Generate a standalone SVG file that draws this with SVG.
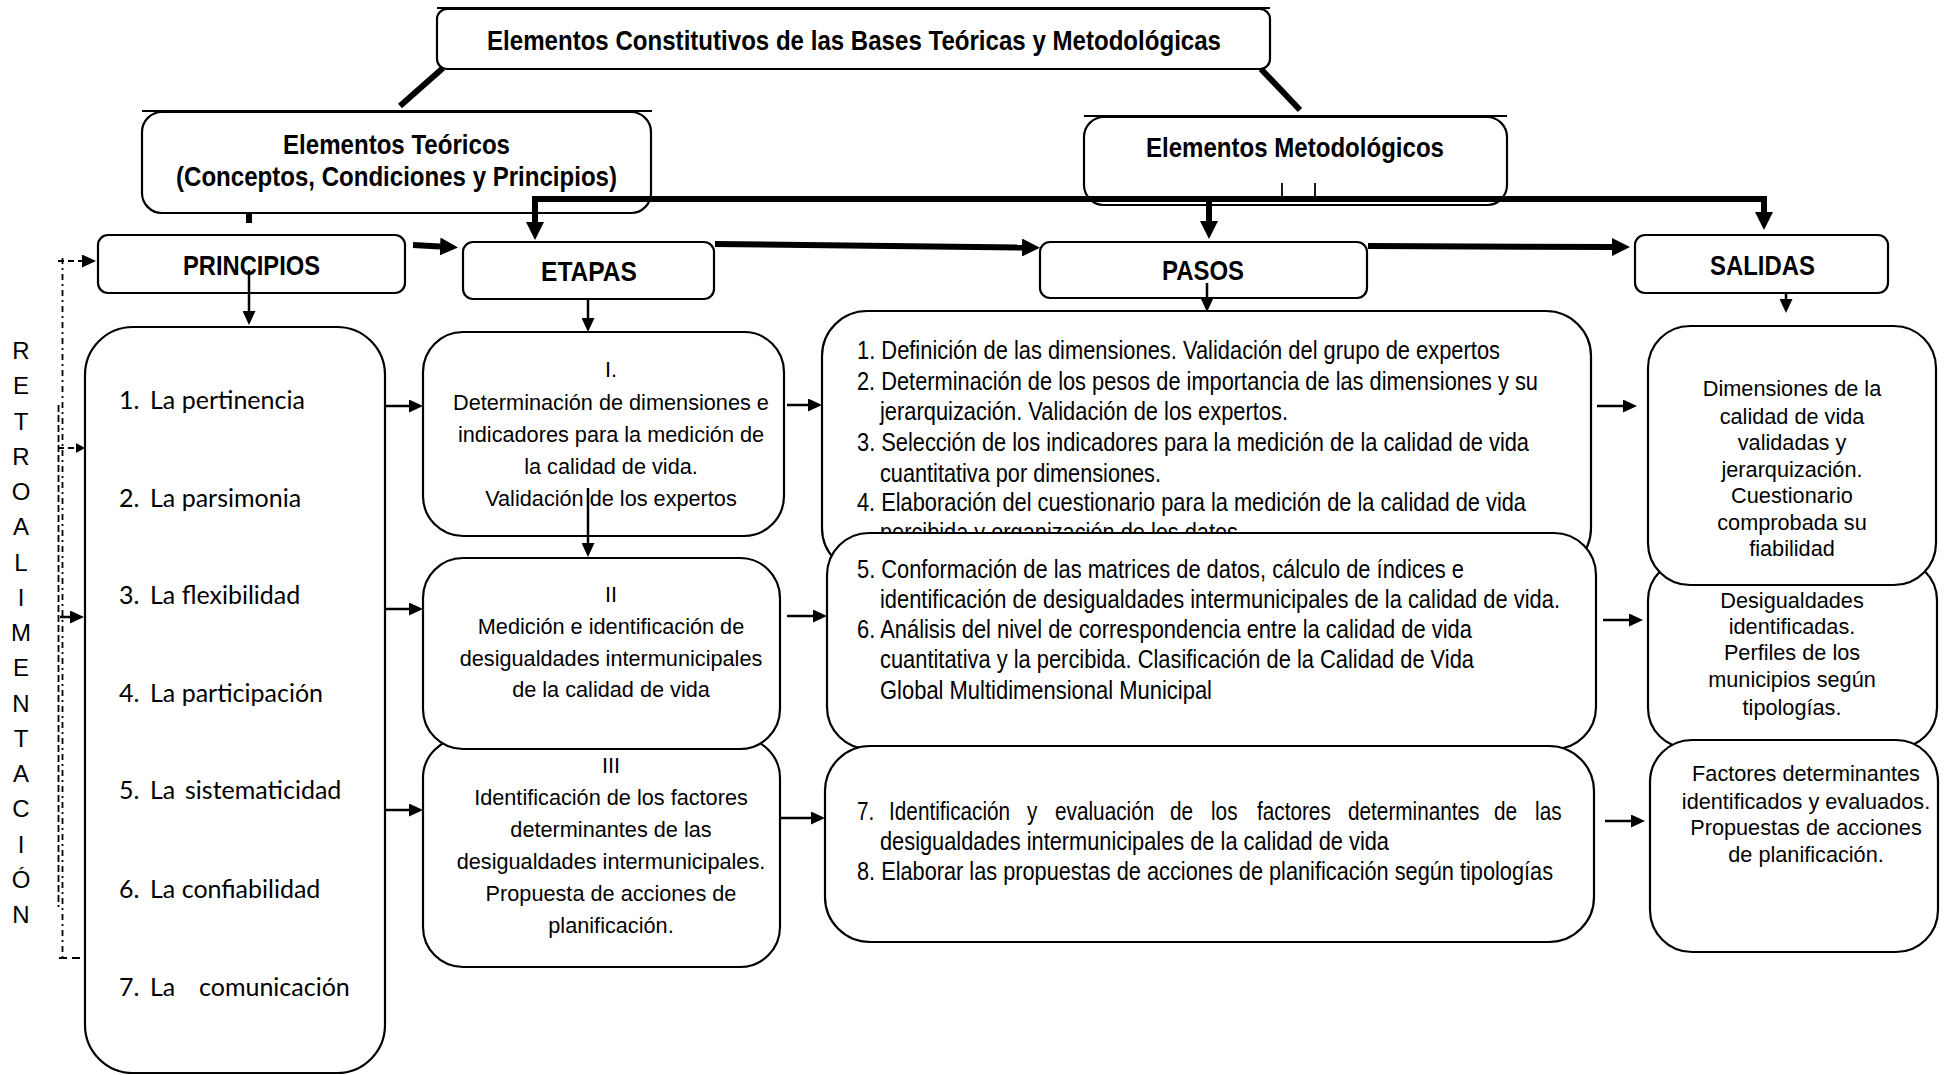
<svg xmlns="http://www.w3.org/2000/svg" width="1944" height="1075" viewBox="0 0 1944 1075">
<style>
.box{fill:#fff;stroke:#000;stroke-width:2.2}
.hd{font-family:"Liberation Sans",Arial,sans-serif;font-weight:bold;font-size:28px;fill:#000}
.tx{font-family:"Liberation Sans",Arial,sans-serif;font-size:21.7px;text-anchor:middle;fill:#000}
.ps{font-family:"Liberation Sans",Arial,sans-serif;font-size:25px;fill:#000}
.li{font-family:Lato,"Liberation Sans",sans-serif;font-size:25px;fill:#000}
.rt{font-family:"Liberation Sans",Arial,sans-serif;font-size:24px;text-anchor:middle;fill:#000}
.thick{stroke:#000;stroke-width:6;fill:none}
.thin{stroke:#000;stroke-width:2.5;fill:none}
.cap{stroke:#000;stroke-width:2;fill:none}
.dd{stroke:#000;stroke-width:1.8;fill:none}
</style>
<defs>
<marker id="hb" markerUnits="userSpaceOnUse" markerWidth="18" markerHeight="18" refX="0" refY="9" orient="auto-start-reverse" viewBox="0 0 18 18"><path d="M0,0 L18,9 L0,18 z" fill="#000"/></marker>
<marker id="ht" markerUnits="userSpaceOnUse" markerWidth="14" markerHeight="13" refX="0" refY="6.5" orient="auto" viewBox="0 0 14 13"><path d="M0,0 L14,6.5 L0,13 z" fill="#000"/></marker>
<marker id="hs" markerUnits="userSpaceOnUse" markerWidth="9" markerHeight="10" refX="0" refY="5" orient="auto" viewBox="0 0 9 10"><path d="M0,0 L9,5 L0,10 z" fill="#000"/></marker>
</defs>
<rect width="1944" height="1075" fill="#fff"/>

<g id="title">
<rect class="box" x="437" y="9" width="833" height="60" rx="10"/>
<line class="cap" x1="437" y1="8" x2="1270" y2="8"/>
<text class="hd" x="487" y="50" textLength="734" lengthAdjust="spacingAndGlyphs">Elementos Constitutivos de las Bases Teóricas y Metodológicas</text>
</g>

<g id="teoricos">
<rect class="box" x="142" y="112" width="509" height="101" rx="20"/>
<line class="cap" x1="142" y1="111" x2="652" y2="111"/>
<text class="hd" x="283" y="154" textLength="227" lengthAdjust="spacingAndGlyphs">Elementos Teóricos</text>
<text class="hd" x="176" y="186" textLength="441" lengthAdjust="spacingAndGlyphs">(Conceptos, Condiciones y Principios)</text>
</g>

<g id="metodologicos">
<rect class="box" x="1084" y="117" width="423" height="88" rx="20"/>
<line class="cap" x1="1084" y1="116" x2="1507" y2="116"/>
<text class="hd" x="1146" y="157" textLength="298" lengthAdjust="spacingAndGlyphs">Elementos Metodológicos</text>
</g>

<g id="principios">
<rect class="box" x="98" y="235" width="307" height="58" rx="10"/>
<text class="hd" x="183" y="275" textLength="137" lengthAdjust="spacingAndGlyphs">PRINCIPIOS</text>
</g>
<g id="etapas">
<rect class="box" x="463" y="242" width="251" height="57" rx="10"/>
<text class="hd" x="541" y="281" textLength="96" lengthAdjust="spacingAndGlyphs">ETAPAS</text>
</g>
<g id="pasos">
<rect class="box" x="1040" y="242" width="327" height="56" rx="10"/>
<text class="hd" x="1162" y="280" textLength="82" lengthAdjust="spacingAndGlyphs">PASOS</text>
</g>
<g id="salidas">
<rect class="box" x="1635" y="235" width="253" height="58" rx="10"/>
<text class="hd" x="1710" y="275" textLength="105" lengthAdjust="spacingAndGlyphs">SALIDAS</text>
</g>

<g id="retroalimentacion">
<text class="rt" x="21" y="359">R</text>
<text class="rt" x="21" y="394">E</text>
<text class="rt" x="21" y="430">T</text>
<text class="rt" x="21" y="465">R</text>
<text class="rt" x="21" y="500">O</text>
<text class="rt" x="21" y="535">A</text>
<text class="rt" x="21" y="571">L</text>
<text class="rt" x="21" y="606">I</text>
<text class="rt" x="21" y="641">M</text>
<text class="rt" x="21" y="676">E</text>
<text class="rt" x="21" y="712">N</text>
<text class="rt" x="21" y="747">T</text>
<text class="rt" x="21" y="782">A</text>
<text class="rt" x="21" y="817">C</text>
<text class="rt" x="21" y="853">I</text>
<text class="rt" x="21" y="888">Ó</text>
<text class="rt" x="21" y="923">N</text>
</g>

<g id="lista-principios">
<rect class="box" x="85" y="327" width="300" height="746" rx="48"/>
<text class="li" y="409"><tspan x="119">1.</tspan><tspan x="150">La pertinencia</tspan></text>
<text class="li" y="507"><tspan x="119">2.</tspan><tspan x="150">La parsimonia</tspan></text>
<text class="li" y="604"><tspan x="119">3.</tspan><tspan x="150">La flexibilidad</tspan></text>
<text class="li" y="702"><tspan x="119">4.</tspan><tspan x="150">La participación</tspan></text>
<text class="li" y="799"><tspan x="119">5.</tspan><tspan x="150">La</tspan><tspan x="185">sistematicidad</tspan></text>
<text class="li" y="898"><tspan x="119">6.</tspan><tspan x="150">La confiabilidad</tspan></text>
<text class="li" y="996"><tspan x="119">7.</tspan><tspan x="150">La</tspan><tspan x="199">comunicación</tspan></text>
</g>

<g id="etapa-3">
<rect class="box" x="423" y="738" width="357" height="229" rx="40"/>
<text class="tx" x="611" y="773">III</text>
<text class="tx" x="611" y="805">Identificación de los factores</text>
<text class="tx" x="611" y="837">determinantes de las</text>
<text class="tx" x="611" y="869">desigualdades intermunicipales.</text>
<text class="tx" x="611" y="901">Propuesta de acciones de</text>
<text class="tx" x="611" y="933">planificación.</text>
</g>
<g id="etapa-2">
<rect class="box" x="423" y="558" width="357" height="191" rx="40"/>
<text class="tx" x="611" y="602">II</text>
<text class="tx" x="611" y="634">Medición e identificación de</text>
<text class="tx" x="611" y="666">desigualdades intermunicipales</text>
<text class="tx" x="611" y="697">de la calidad de vida</text>
</g>
<g id="etapa-1">
<rect class="box" x="423" y="332" width="361" height="204" rx="40"/>
<text class="tx" x="611" y="377">I.</text>
<text class="tx" x="611" y="410">Determinación de dimensiones e</text>
<text class="tx" x="611" y="442">indicadores para la medición de</text>
<text class="tx" x="611" y="474">la calidad de vida.</text>
<text class="tx" x="611" y="506">Validación de los expertos</text>
</g>

<g id="pasos-1-4">
<rect class="box" x="822" y="311" width="769" height="262" rx="45"/>
<text class="ps" x="857" y="359" textLength="643" lengthAdjust="spacingAndGlyphs">1. Definición de las dimensiones. Validación del grupo de expertos</text>
<text class="ps" x="857" y="390" textLength="681" lengthAdjust="spacingAndGlyphs">2. Determinación de los pesos de importancia de las dimensiones y su</text>
<text class="ps" x="880" y="420" textLength="408" lengthAdjust="spacingAndGlyphs">jerarquización. Validación de los expertos.</text>
<text class="ps" x="857" y="451" textLength="672" lengthAdjust="spacingAndGlyphs">3. Selección de los indicadores para la medición de la calidad de vida</text>
<text class="ps" x="880" y="482" textLength="281" lengthAdjust="spacingAndGlyphs">cuantitativa por dimensiones.</text>
<text class="ps" x="857" y="511" textLength="669" lengthAdjust="spacingAndGlyphs">4. Elaboración del cuestionario para la medición de la calidad de vida</text>
<text class="ps" x="880" y="541" textLength="358" lengthAdjust="spacingAndGlyphs">percibida y organización de los datos</text>
</g>
<g id="pasos-5-6">
<rect class="box" x="827" y="533" width="769" height="216" rx="42"/>
<text class="ps" x="857" y="578" textLength="607" lengthAdjust="spacingAndGlyphs">5. Conformación de las matrices de datos, cálculo de índices e</text>
<text class="ps" x="880" y="608" textLength="680" lengthAdjust="spacingAndGlyphs">identificación de desigualdades intermunicipales de la calidad de vida.</text>
<text class="ps" x="857" y="638" textLength="615" lengthAdjust="spacingAndGlyphs">6. Análisis del nivel de correspondencia entre la calidad de vida</text>
<text class="ps" x="880" y="668" textLength="594" lengthAdjust="spacingAndGlyphs">cuantitativa y la percibida. Clasificación de la Calidad de Vida</text>
<text class="ps" x="880" y="699" textLength="332" lengthAdjust="spacingAndGlyphs">Global Multidimensional Municipal</text>
</g>
<g id="pasos-7-8">
<rect class="box" x="825" y="746" width="769" height="196" rx="45"/>
<text class="ps" transform="translate(857,820) scale(0.83,1)"><tspan x="0">7.</tspan><tspan x="38.6">Identificación</tspan><tspan x="204.8">y</tspan><tspan x="238.6">evaluación</tspan><tspan x="377.1">de</tspan><tspan x="426.5">los</tspan><tspan x="481.9">factores</tspan><tspan x="591.6">determinantes</tspan><tspan x="767.5">de</tspan><tspan x="816.9">las</tspan></text>
<text class="ps" x="880" y="850" textLength="509" lengthAdjust="spacingAndGlyphs">desigualdades intermunicipales de la calidad de vida</text>
<text class="ps" x="857" y="880" textLength="696" lengthAdjust="spacingAndGlyphs">8. Elaborar las propuestas de acciones de planificación según tipologías</text>
</g>

<g id="salida-2">
<rect class="box" x="1648" y="560" width="289" height="188" rx="40"/>
<text class="tx" x="1792" y="608">Desigualdades</text>
<text class="tx" x="1792" y="634">identificadas.</text>
<text class="tx" x="1792" y="660">Perfiles de los</text>
<text class="tx" x="1792" y="687">municipios según</text>
<text class="tx" x="1792" y="715">tipologías.</text>
</g>
<g id="salida-1">
<rect class="box" x="1648" y="326" width="288" height="259" rx="42"/>
<text class="tx" x="1792" y="396">Dimensiones de la</text>
<text class="tx" x="1792" y="424">calidad de vida</text>
<text class="tx" x="1792" y="450">validadas y</text>
<text class="tx" x="1792" y="477">jerarquización.</text>
<text class="tx" x="1792" y="503">Cuestionario</text>
<text class="tx" x="1792" y="530">comprobada su</text>
<text class="tx" x="1792" y="556">fiabilidad</text>
</g>
<g id="salida-3">
<rect class="box" x="1650" y="740" width="288" height="212" rx="42"/>
<text class="tx" x="1806" y="781">Factores determinantes</text>
<text class="tx" x="1806" y="809">identificados y evaluados.</text>
<text class="tx" x="1806" y="835">Propuestas de acciones</text>
<text class="tx" x="1806" y="862">de planificación.</text>
</g>

<g id="connectors">
<path class="thick" d="M443,68 L400,106"/>
<path class="thick" d="M1261,69 L1300,110"/>
<path class="thick" d="M249,213 L249,223" stroke-width="5"/>
<line class="dd" x1="1282" y1="183" x2="1282" y2="199"/>
<line class="dd" x1="1315" y1="183" x2="1315" y2="199"/>
<path class="thick" d="M535,222 L535,199 L1764,199 L1764,212" marker-start="url(#hb)" marker-end="url(#hb)"/>
<path class="thick" d="M1209,199 L1209,221" marker-end="url(#hb)"/>
<path class="thick" d="M413,245 L440,246.5" stroke-width="5.5" marker-end="url(#hb)"/>
<path class="thick" d="M715,244 L1022,247.5" marker-end="url(#hb)"/>
<path class="thick" d="M1368,246 L1612,247" marker-end="url(#hb)"/>

<path class="thin" d="M249,270 L249,311" marker-end="url(#ht)"/>
<path class="thin" d="M588,299 L588,318" marker-end="url(#ht)"/>
<path class="thin" d="M1207,283 L1207,298" marker-end="url(#ht)"/>
<path class="thin" d="M1786,294 L1786,299" marker-end="url(#ht)"/>
<path class="thin" d="M588,488 L588,543" marker-end="url(#ht)"/>

<path class="thin" d="M385,406 L409,406" marker-end="url(#ht)"/>
<path class="thin" d="M385,609 L409,609" marker-end="url(#ht)"/>
<path class="thin" d="M385,810 L409,810" marker-end="url(#ht)"/>
<path class="thin" d="M787,405 L808,405" marker-end="url(#ht)"/>
<path class="thin" d="M787,616 L813,616" marker-end="url(#ht)"/>
<path class="thin" d="M781,818 L811,818" marker-end="url(#ht)"/>
<path class="thin" d="M1597,406 L1623,406" marker-end="url(#ht)"/>
<path class="thin" d="M1603,620 L1629,620" marker-end="url(#ht)"/>
<path class="thin" d="M1605,821 L1631,821" marker-end="url(#ht)"/>

<line class="dd" x1="62.5" y1="258" x2="62.5" y2="959" stroke-dasharray="6,4,2,4"/>
<line class="dd" x1="58.5" y1="405" x2="58.5" y2="907" stroke-dasharray="7,3"/>
<path class="dd" d="M58,261 L82,261" stroke-dasharray="6,4" marker-end="url(#ht)"/>
<path class="dd" d="M58,448 L76,448" stroke-dasharray="6,4" marker-end="url(#hs)"/>
<path class="thin" d="M60,617 L70,617" marker-end="url(#ht)"/>
<path class="dd" d="M59,958 L85,958" stroke-dasharray="8,5" stroke-width="2.2"/>
</g>
</svg>
